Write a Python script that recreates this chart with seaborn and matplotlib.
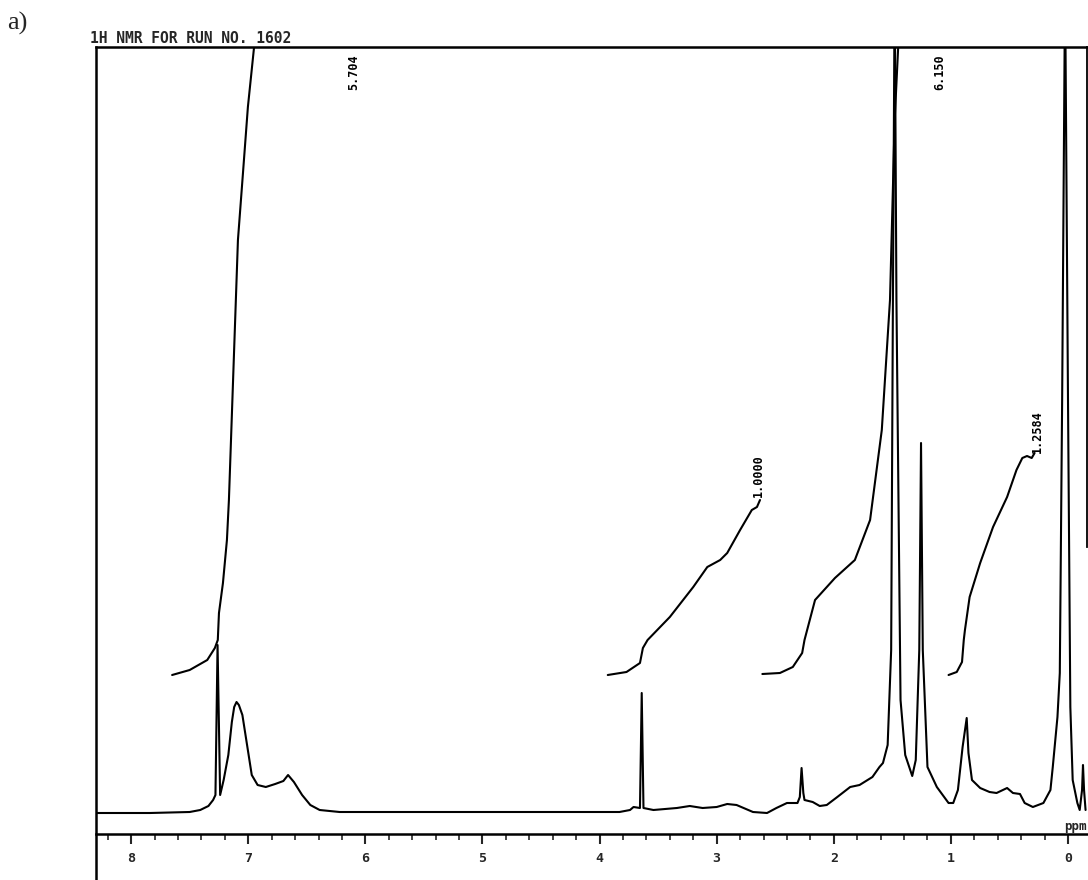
import numpy as np
import pandas as pd
import matplotlib
matplotlib.use("Agg")
import matplotlib.pyplot as plt
from matplotlib.ticker import MultipleLocator
import seaborn as sns

# spectrum trace (ppm, height above baseline)
spec_ppm = [8.30, 7.84, 7.50, 7.41, 7.34, 7.30, 7.28, 7.262, 7.24, 7.21, 7.17, 7.14,
            7.12, 7.10, 7.08, 7.05, 7.01, 6.97, 6.92, 6.85, 6.77, 6.70, 6.66, 6.61,
            6.54, 6.47, 6.39, 6.22, 5.70, 4.85, 4.00, 3.83, 3.74, 3.71, 3.655, 3.64,
            3.625, 3.54, 3.34, 3.23, 3.12, 3.00, 2.91, 2.83, 2.69, 2.57, 2.49, 2.40,
            2.31, 2.29, 2.275, 2.26, 2.25, 2.18, 2.12, 2.06, 1.97, 1.86, 1.78, 1.67,
            1.61, 1.58, 1.54, 1.51, 1.495, 1.48, 1.465, 1.43, 1.39, 1.33, 1.30, 1.27,
            1.255, 1.24, 1.20, 1.12, 1.02, 0.98, 0.94, 0.90, 0.865, 0.85, 0.82, 0.75,
            0.67, 0.61, 0.52, 0.47, 0.41, 0.37, 0.30, 0.21, 0.15, 0.13, 0.09, 0.07,
            0.05, 0.025, 0.0, -0.02, -0.04, -0.08, -0.10, -0.12, -0.128, -0.137, -0.15]
spec_int = [-1, -1, 0, 2, 6, 12, 17, 167, 17, 32, 57, 90,
            105, 110, 107, 97, 67, 37, 27, 25, 28, 31, 37, 30,
            17, 7, 2, 0, 0, 0, 0, 0, 2, 5, 4, 119,
            4, 2, 4, 6, 4, 5, 8, 7, 0, -1, 4, 9,
            9, 15, 44, 19, 12, 10, 6, 7, 15, 25, 27, 35,
            45, 49, 67, 162, 512, 830, 512, 112, 57, 36, 52, 162,
            369, 162, 45, 25, 9, 9, 22, 65, 94, 59, 32, 24,
            20, 19, 24, 19, 18, 9, 5, 9, 22, 45, 95, 139,
            412, 830, 412, 105, 32, 9, 2, 22, 47, 22, 2]

# integral traces
int1_ppm = [7.65, 7.50, 7.35, 7.285, 7.26, 7.25, 7.216, 7.182, 7.165, 7.088, 7.045, 7.003, 6.951, 6.93]
int1_val = [137, 142, 152, 164, 172, 199, 229, 272, 312, 572, 639, 705, 764, 800]
int2_ppm = [3.93, 3.77, 3.655, 3.63, 3.59, 3.40, 3.20, 3.08, 2.97, 2.91, 2.80, 2.70, 2.656, 2.63]
int2_val = [137, 140, 149, 164, 172, 195, 225, 245, 252, 259, 282, 302, 305, 312]
int3_ppm = [2.61, 2.46, 2.35, 2.27, 2.25, 2.16, 1.99, 1.82, 1.69, 1.59, 1.52, 1.48, 1.45, 1.43]
int3_val = [138, 139, 145, 159, 172, 212, 234, 252, 292, 382, 512, 692, 765, 812]
int4_ppm = [1.02, 0.95, 0.905, 0.89, 0.88, 0.84, 0.75, 0.64, 0.52, 0.44, 0.39, 0.35, 0.31, 0.285]
int4_val = [137, 140, 150, 172, 182, 215, 249, 285, 315, 342, 354, 356, 354, 359]

int_labels = ["5.704", "6.150", "1.0000", "1.2584"]
label_ppm = [6.10, 1.093, 2.64, 0.265]
label_val = [740, 740, 336, 380]

ticks = [0, 1, 2, 3, 4, 5, 6, 7, 8]

sns.set_style("white")
plt.rcParams["font.family"] = ["DejaVu Sans Mono", "DejaVu Sans"]

fig = plt.figure(figsize=(10.88, 8.8), dpi=100)
ax = fig.add_axes([96 / 1088, 0, 990.5 / 1088, 1 - 47 / 880])

spec = pd.DataFrame({"ppm": spec_ppm, "intensity": spec_int})
sns.lineplot(data=spec, x="ppm", y="intensity", sort=False, estimator=None,
             color="black", linewidth=1.5, ax=ax)
for xs, ys in [(int1_ppm, int1_val), (int2_ppm, int2_val),
               (int3_ppm, int3_val), (int4_ppm, int4_val)]:
    sns.lineplot(x=xs, y=ys, sort=False, estimator=None, color="black",
                 linewidth=1.5, ax=ax)

for t, xp, yp in zip(int_labels, label_ppm, label_val):
    ax.text(xp, yp, t, rotation=90, ha="center", va="center",
            fontsize=8.5, fontweight="bold", color="black")

ax.set_xlim(8.30, -0.158)
ax.set_ylim(-68, 765)
ax.set_xlabel("")
ax.set_ylabel("")
ax.set_yticks([])

ax.spines["bottom"].set_position(("data", -22))
ax.spines["right"].set_bounds(265, 765)
for s in ["left", "top", "bottom", "right"]:
    ax.spines[s].set_linewidth(1.8)
    ax.spines[s].set_color("black")
ax.spines["right"].set_linewidth(1.3)

ax.set_xticks(ticks)
ax.set_xticklabels([str(t) for t in ticks])
ax.xaxis.set_minor_locator(MultipleLocator(0.2))
ax.tick_params(axis="x", which="major", direction="out", length=7, width=1.5,
               labelsize=9.5, pad=6, bottom=True)
ax.tick_params(axis="x", which="minor", direction="out", length=4, width=1.2,
               bottom=True)
for lab in ax.get_xticklabels():
    lab.set_fontweight("bold")

fig.text(1087 / 1088, 1 - 830 / 880, "ppm", ha="right", va="baseline",
         fontsize=9, fontweight="bold")

fig.text(90 / 1088, 1 - 43 / 880, "1H NMR FOR RUN NO. 1602", ha="left",
         va="baseline", fontsize=10.5, fontweight="bold")
fig.text(7 / 1088, 1 - 23 / 880, "a)", ha="left", va="center", fontsize=19,
         family="Liberation Serif")

fig.savefig("out.png", dpi=100)
